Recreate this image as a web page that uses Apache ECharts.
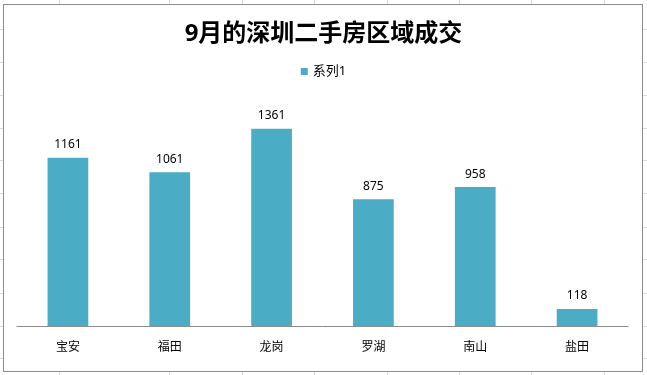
<!DOCTYPE html>
<html>
<head>
<meta charset="utf-8">
<script src="https://cdn.jsdelivr.net/npm/echarts@6/dist/echarts.min.js"></script>
<style>
  html, body { margin: 0; padding: 0; background: #fff; }
  #wrap { position: relative; width: 647px; height: 375px; overflow: hidden; background: #fff; }
  .gl { position: absolute; background: #d9d9d9; }
  #box { position: absolute; left: 3px; top: 4px; width: 638px; height: 366px; border: 1px solid #8c8c8c; background: #fff; }
  #chart { position: absolute; left: 0; top: 0; width: 647px; height: 375px; }
</style>
</head>
<body>
<div id="wrap">
  <div id="box"></div>
  <div id="chart"></div>
</div>
<script>
// Data
const titleText = '9月的深圳二手房区域成交';
const seriesName = '系列1';
const categories = ['宝安', '福田', '龙岗', '罗湖', '南山', '盐田'];
const values = [1161, 1061, 1361, 875, 958, 118];

// Spreadsheet background grid (decoration)
const colLines = [59, 169, 242, 314, 387, 459, 531, 604];
const rowLines = [29, 62, 95, 128, 160, 193, 227, 259, 293, 326, 358];
const wrap = document.getElementById('wrap');
const box = document.getElementById('box');
colLines.forEach(function (x) {
  const d = document.createElement('div');
  d.className = 'gl';
  d.style.left = x + 'px'; d.style.top = '0px'; d.style.width = '1px'; d.style.height = '375px';
  wrap.insertBefore(d, box);
});
rowLines.forEach(function (y) {
  const d = document.createElement('div');
  d.className = 'gl';
  d.style.left = '0px'; d.style.top = y + 'px'; d.style.width = '647px'; d.style.height = '1px';
  wrap.insertBefore(d, box);
});

const FONT = '"Noto Sans", "Noto Sans CJK SC", sans-serif';
const chart = echarts.init(document.getElementById('chart'), null, { renderer: 'canvas' });
chart.setOption({
  backgroundColor: 'transparent',
  animation: false,
  title: {
    text: titleText,
    left: 'center',
    top: 17,
    textStyle: { fontSize: 24, fontWeight: 'bold', color: '#000', fontFamily: FONT }
  },
  legend: {
    data: [seriesName],
    left: 'center',
    top: 60,
    icon: 'rect',
    itemWidth: 7,
    itemHeight: 7,
    itemGap: 5,
    textStyle: { fontSize: 13, color: '#000', fontFamily: FONT }
  },
  grid: { left: 17, right: 19, top: 94, bottom: 49, containLabel: false },
  xAxis: {
    type: 'category',
    data: categories,
    axisLine: { lineStyle: { color: '#8c8c8c', width: 1 } },
    axisTick: { show: false },
    axisLabel: { fontSize: 12, color: '#000', margin: 16, fontFamily: FONT }
  },
  yAxis: {
    type: 'value',
    min: 0,
    max: 1600,
    interval: 200,
    show: false,
    splitLine: { show: false }
  },
  series: [{
    name: seriesName,
    type: 'bar',
    data: values,
    barWidth: '40%',
    itemStyle: { color: '#4bacc6' },
    label: {
      show: true,
      position: 'top',
      distance: 7,
      fontSize: 12,
      color: '#000',
      fontFamily: FONT
    }
  }]
});
</script>
</body>
</html>
